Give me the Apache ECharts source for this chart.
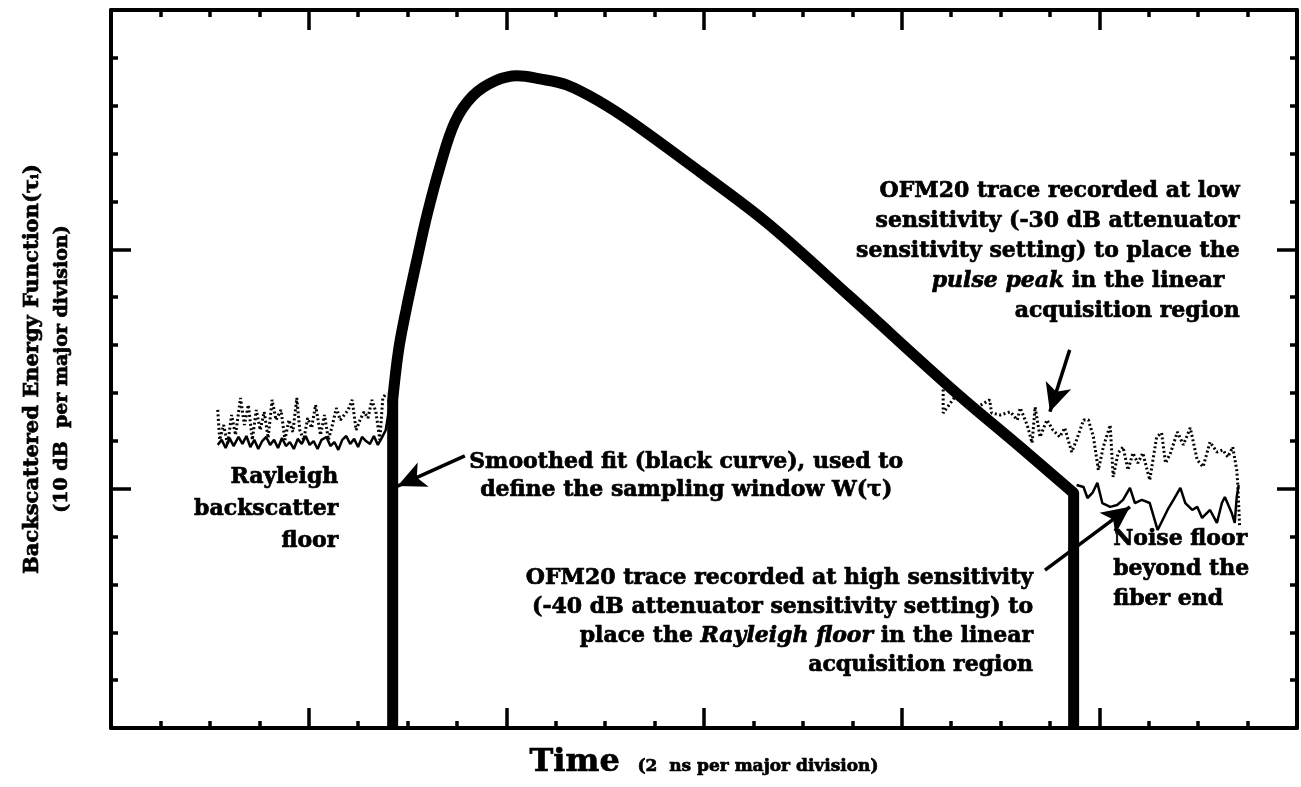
<!DOCTYPE html>
<html>
<head>
<meta charset="utf-8">
<script src="https://cdn.jsdelivr.net/npm/echarts@6/dist/echarts.min.js"></script>
<style>
  html, body { margin: 0; padding: 0; background: #fff; }
  #chart { width: 1301px; height: 787px; }
</style>
</head>
<body>
<div id="chart"></div>
<script>
// Axis spans: time in ns (2 ns per major division), level in dB (10 dB per major division)
const timeRange = [0, 12];
const levelRange = [0, 30];

// Smoothed fit W(τ): vertical start edge, rise, peak, decay, vertical end edge  [ns, dB]
const smoothedFit = [
  [2.85, 0], [2.85, 13.71], [2.91, 15.80], [2.99, 17.55], [3.09, 19.47], [3.20, 21.48],
  [3.33, 23.48], [3.48, 25.32], [3.66, 26.41], [3.89, 27.04], [4.11, 27.25], [4.34, 27.12],
  [4.61, 26.87], [4.95, 26.16], [5.28, 25.28], [5.96, 23.23], [6.64, 21.10], [7.48, 18.01],
  [8.52, 14.12], [9.20, 11.74], [9.74, 9.82], [9.74, 0]
];

// Low-sensitivity (-30 dB) trace, before the pulse
const lowSensLeft = [
  [1.08, 13.29], [1.10, 12.04], [1.14, 12.66], [1.18, 11.83], [1.22, 13.08], [1.26, 12.24],
  [1.31, 13.79], [1.35, 12.66], [1.39, 13.50], [1.43, 12.04], [1.47, 13.29], [1.51, 12.45],
  [1.55, 13.21], [1.59, 12.12], [1.63, 13.71], [1.67, 12.87], [1.72, 13.29], [1.76, 12.04],
  [1.80, 12.87], [1.84, 12.37], [1.88, 13.79], [1.91, 12.45], [1.95, 12.04], [1.99, 12.95],
  [2.03, 12.54], [2.07, 13.50], [2.12, 12.24], [2.16, 13.08], [2.20, 12.04], [2.24, 12.66],
  [2.28, 13.37], [2.32, 12.87], [2.36, 13.08], [2.40, 13.29], [2.44, 13.71], [2.48, 12.45],
  [2.52, 12.87], [2.56, 13.21], [2.60, 12.95], [2.64, 13.71], [2.68, 13.21], [2.72, 12.04],
  [2.75, 13.79], [2.79, 14.00]
];

// High-sensitivity (-40 dB) trace, Rayleigh backscatter floor before the pulse
const highSensLeft = [
  [1.08, 11.83], [1.12, 12.04], [1.16, 11.70], [1.20, 12.12], [1.24, 11.78], [1.29, 12.16],
  [1.33, 11.87], [1.37, 12.20], [1.41, 11.74], [1.45, 12.04], [1.49, 11.66], [1.53, 11.99],
  [1.57, 12.16], [1.61, 11.83], [1.65, 12.04], [1.69, 11.70], [1.73, 12.12], [1.77, 11.78],
  [1.81, 11.95], [1.85, 11.66], [1.89, 12.08], [1.93, 11.87], [1.97, 12.20], [2.01, 11.83],
  [2.05, 11.99], [2.09, 11.66], [2.13, 12.04], [2.18, 12.16], [2.22, 11.78], [2.26, 11.95],
  [2.30, 11.62], [2.34, 12.04], [2.38, 12.20], [2.42, 11.87], [2.46, 12.08], [2.50, 11.74],
  [2.54, 12.16], [2.58, 11.99], [2.62, 11.87], [2.66, 12.20], [2.70, 11.83], [2.74, 12.12],
  [2.78, 12.45], [2.82, 13.50]
];

// Low-sensitivity (-30 dB) trace, tail and beyond the fiber end
const lowSensRight = [
  [8.42, 14.33], [8.42, 13.16], [8.55, 13.90], [8.72, 13.30], [8.89, 13.71], [8.91, 13.16],
  [9.00, 13.08], [9.10, 13.21],
  [9.17, 12.87], [9.20, 13.37], [9.27, 12.66], [9.32, 11.91], [9.35, 13.41], [9.40, 12.16],
  [9.47, 12.87], [9.53, 12.45], [9.60, 12.16], [9.65, 12.54], [9.72, 11.53], [9.77, 12.04],
  [9.84, 12.87], [9.89, 12.87], [9.94, 12.16], [9.99, 10.78], [10.04, 11.74], [10.11, 12.66],
  [10.14, 10.49], [10.19, 11.49], [10.24, 11.74], [10.29, 10.78], [10.34, 11.49], [10.39, 11.07],
  [10.44, 11.49], [10.51, 10.36], [10.58, 12.16], [10.63, 12.33], [10.67, 11.07], [10.72, 11.49],
  [10.79, 12.37], [10.85, 11.83], [10.92, 12.54], [10.99, 11.20], [11.05, 10.91], [11.12, 11.95],
  [11.19, 11.53], [11.25, 11.62], [11.30, 11.32], [11.35, 11.74], [11.39, 10.78], [11.40, 10.24],
  [11.42, 8.40]
];

// High-sensitivity (-40 dB) trace, noise floor beyond the fiber end
const highSensRight = [
  [9.77, 10.15], [9.84, 10.07], [9.88, 9.61], [9.93, 9.82], [9.98, 10.24], [10.03, 9.40],
  [10.11, 9.24], [10.18, 9.32], [10.24, 9.53], [10.31, 10.03], [10.36, 9.40], [10.43, 9.53],
  [10.51, 9.40], [10.59, 8.27], [10.69, 9.11], [10.75, 9.53], [10.82, 10.03], [10.87, 9.40],
  [10.94, 9.11], [10.99, 9.24], [11.04, 8.78], [11.12, 9.11], [11.19, 8.57], [11.24, 9.40],
  [11.27, 9.65], [11.34, 8.98], [11.37, 8.57], [11.39, 9.65], [11.41, 10.15]
];

// Annotation arrows: [from, to] in [ns, dB]
const arrows = [
  [[3.58, 11.37], [2.90, 10.11]],
  [[9.70, 15.80], [9.50, 13.21]],
  [[9.45, 6.60], [10.31, 9.24]]
];

// Annotation text blocks: anchor in [ns, dB], alignment, line height
const notes = [
  { at: [2.30, 11.15], align: 'right', lh: 32,
    text: '{b|Rayleigh}\n{b|backscatter}\n{b|floor}' },
  { at: [5.82, 11.70], align: 'center', lh: 28,
    text: '{b|Smoothed fit (black curve), used to}\n{b|define the sampling window W(τ)}' },
  { at: [9.33, 6.85], align: 'right', lh: 29,
    text: '{b|OFM20 trace recorded at high sensitivity}\n{b|(-40 dB attenuator sensitivity setting) to}\n{b|place the }{i|Rayleigh floor}{b| in the linear}\n{b|acquisition region}' },
  { at: [11.42, 23.05], align: 'right', lh: 30,
    text: '{b|OFM20 trace recorded at low}\n{b|sensitivity (-30 dB attenuator}\n{b|sensitivity setting) to place the}\n{i|pulse peak}{b| in the linear  }\n{b|acquisition region}' },
  { at: [10.14, 8.50], align: 'left', lh: 30,
    text: '{b|Noise floor}\n{b|beyond the}\n{b|fiber end}' }
];

const FONT = 'DejaVu Serif';
// text stroke used to thicken the bold serif (option-level names)
const heavy = { textBorderColor: '#000', textBorderWidth: 0.7 };
// zrender-level rich styles for the free annotation text
const noteRich = {
  b: { fontFamily: FONT, fontWeight: 'bold', fontSize: 22, fill: '#000', stroke: '#000', lineWidth: 0.7 },
  i: { fontFamily: FONT, fontWeight: 'bold', fontStyle: 'italic', fontSize: 22, fill: '#000', stroke: '#000', lineWidth: 0.7 }
};

function frameAxis(extra) {
  return Object.assign({
    type: 'value',
    axisLine: { show: true, onZero: false, lineStyle: { color: '#000', width: 4 } },
    axisTick: { show: true, inside: true, length: 20, lineStyle: { color: '#000', width: 3.5 } },
    axisLabel: { show: false },
    splitLine: { show: false },
    minorSplitLine: { show: false }
  }, extra);
}

const xCommon = { min: timeRange[0], max: timeRange[1], interval: 2 };
const yCommon = { min: levelRange[0], max: levelRange[1], interval: 10 };
function xMinor() { return { show: true, splitNumber: 4, length: 7, lineStyle: { color: '#000', width: 3.5 } }; }
function yMinor() { return { show: true, splitNumber: 5, length: 7, lineStyle: { color: '#000', width: 3.5 } }; }

const chart = echarts.init(document.getElementById('chart'), null, { renderer: 'canvas' });

const fitLine = { color: '#000', width: 11, join: 'round', cap: 'butt' };
const dotted = { color: '#000', width: 3, type: [2, 2.5] };

const option = {
  backgroundColor: '#fff',
  animation: false,
  grid: { left: 111, right: 4, top: 10, bottom: 59, containLabel: false },
  xAxis: [
    frameAxis(Object.assign({}, xCommon, {
      position: 'bottom',
      minorTick: xMinor(),
      name: '{a|Time}{b|   (2  ns per major division)}',
      nameLocation: 'middle',
      nameGap: 19,
      nameTextStyle: {
        rich: {
          a: Object.assign({ fontFamily: FONT, fontWeight: 'bold', fontSize: 32, color: '#000', verticalAlign: 'bottom' }, heavy),
          b: Object.assign({ fontFamily: FONT, fontWeight: 'bold', fontSize: 17, color: '#000', verticalAlign: 'bottom', padding: [0, 0, 4, 0] }, heavy)
        }
      }
    })),
    frameAxis(Object.assign({}, xCommon, { position: 'top', minorTick: xMinor() }))
  ],
  yAxis: [
    frameAxis(Object.assign({}, yCommon, {
      position: 'left',
      minorTick: yMinor(),
      name: '{a|Backscattered Energy Function(τᵢ)}\n{b|(10 dB  per major division)}',
      nameLocation: 'middle',
      nameGap: 35,
      nameTextStyle: {
        align: 'center',
        rich: {
          a: Object.assign({ fontFamily: FONT, fontWeight: 'bold', fontSize: 21, color: '#000', lineHeight: 30, align: 'center' }, heavy),
          b: Object.assign({ fontFamily: FONT, fontWeight: 'bold', fontSize: 19, color: '#000', lineHeight: 28, align: 'center' }, heavy)
        }
      }
    })),
    frameAxis(Object.assign({}, yCommon, { position: 'right', minorTick: yMinor() }))
  ],
  series: [
    { name: '-30 dB left', type: 'line', data: lowSensLeft, showSymbol: false, silent: true, lineStyle: dotted, z: 2 },
    { name: '-40 dB left', type: 'line', data: highSensLeft, showSymbol: false, silent: true,
      lineStyle: { color: '#000', width: 2.5 }, z: 2 },
    { name: '-30 dB right', type: 'line', data: lowSensRight, showSymbol: false, silent: true, lineStyle: dotted, z: 2 },
    { name: '-40 dB right', type: 'line', data: highSensRight, showSymbol: false, silent: true,
      lineStyle: { color: '#000', width: 2.5 }, z: 2 },
    {
      // rising edge of the window
      name: 'Fit start', type: 'line', data: smoothedFit.slice(0, 2), showSymbol: false, silent: true,
      lineStyle: fitLine, z: 3
    },
    {
      name: 'Smoothed fit', type: 'line', data: smoothedFit.slice(1, -1), showSymbol: false, silent: true,
      smooth: 0.35,
      lineStyle: Object.assign({}, fitLine, { cap: 'round' }), z: 3,
      markLine: {
        silent: true,
        symbol: ['none', 'arrow'],
        symbolSize: [20, 28],
        label: { show: false },
        lineStyle: { color: '#000', width: 3.5, type: 'solid' },
        emphasis: { disabled: true },
        data: arrows.map(a => [{ coord: a[0] }, { coord: a[1] }])
      }
    },
    {
      // falling edge at the fiber end
      name: 'Fit end', type: 'line', data: smoothedFit.slice(-2), showSymbol: false, silent: true,
      lineStyle: fitLine, z: 3
    }
  ]
};

chart.setOption(option);

// Place the annotation text blocks at their data anchors
const graphics = notes.map(n => {
  const p = chart.convertToPixel({ gridIndex: 0 }, n.at);
  const rich = {};
  Object.keys(noteRich).forEach(k => { rich[k] = Object.assign({ lineHeight: n.lh }, noteRich[k]); });
  return {
    type: 'text', x: p[0], y: p[1], z: 10, silent: true,
    style: { text: n.text, rich: rich, align: n.align, verticalAlign: 'top', fill: '#000' }
  };
});
chart.setOption({ graphic: graphics });
</script>
</body>
</html>
